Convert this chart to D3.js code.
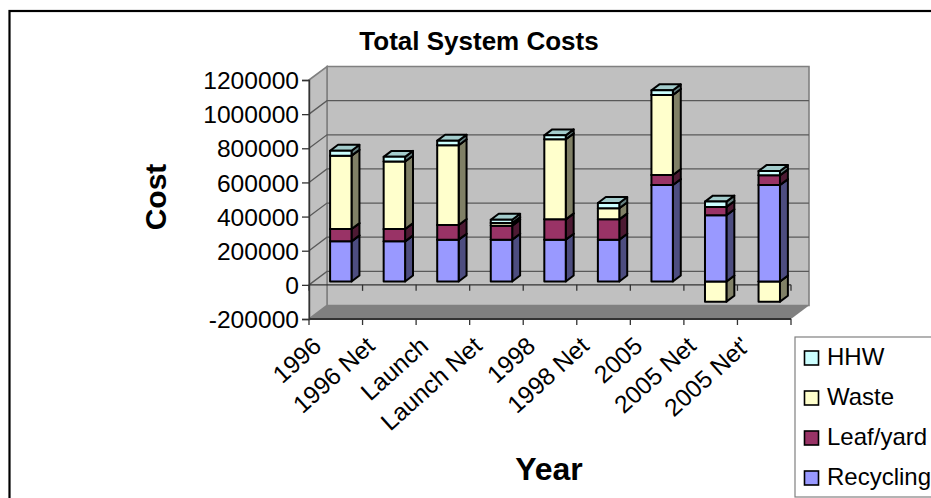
<!DOCTYPE html>
<html>
<head>
<meta charset="utf-8">
<script src="https://cdn.jsdelivr.net/npm/d3@7/dist/d3.min.js"></script>
<style>
html, body { margin: 0; padding: 0; background: #fff; overflow: hidden; }
svg { display: block; font-family: "Liberation Sans", Arial, sans-serif; }
</style>
</head>
<body>
<svg id="chart" width="931" height="498"></svg>
<script>
const categories = ["1996", "1996 Net", "Launch", "Launch Net", "1998", "1998 Net", "2005", "2005 Net", "2005 Net'"];
const recycling = [235000, 235000, 245000, 245000, 245000, 245000, 565000, 388000, 565000];
const leafYard = [72000, 72000, 86000, 82000, 119000, 119000, 59000, 49000, 57000];
const waste = [430000, 396000, 467000, 15000, 469000, 65000, 469000, -118000, -118000];
const hhw = [29000, 27000, 27000, 20000, 23000, 31000, 27000, 31000, 25000];
const valueTicks = [-200000, 0, 200000, 400000, 600000, 800000, 1000000, 1200000];

const seriesList = [
  { name: "Recycling", values: recycling, front: "#9999FF", side: "#4D4D80", top: "#7A7ACC" },
  { name: "Leaf/yard", values: leafYard, front: "#993366", side: "#4D1A33", top: "#7A2952" },
  { name: "Waste", values: waste, front: "#FFFFCC", side: "#808066", top: "#CCCCA3" },
  { name: "HHW", values: hhw, front: "#CCFFFF", side: "#668080", top: "#A3CCCC" }
];

const svg = d3.select("#chart");

const x = d3.scaleBand().domain(categories).range([309, 791]).paddingInner(0).paddingOuter(0);
const y = d3.scaleLinear().domain([-200000, 1200000]).range([319, 80]);

// Oblique projection: depth 0 is the front plane, depth 1 the back wall.
const depthX = d3.scaleLinear().domain([0, 1]).range([0, 18]);
const depthY = d3.scaleLinear().domain([0, 1]).range([0, -13.5]);
const project = (px, value, depth) => [px + depthX(depth), y(value) + depthY(depth)];
const poly = pts => pts.map(p => p.map(v => v.toFixed(2)).join(",")).join(" ");

const [xMin, xMax] = x.range();
const [vMin, vMax] = y.domain();

// Outer frame of the chart area
svg.append("rect").attr("x", 9.5).attr("y", 11).attr("width", 940).attr("height", 500)
  .attr("fill", "#fff").attr("stroke", "#000").attr("stroke-width", 2.2);

svg.append("text").attr("x", 479).attr("y", 50).attr("text-anchor", "middle")
  .attr("font-size", 26).attr("font-weight", "bold").text("Total System Costs");

const walls = svg.append("g");
// Back wall
walls.append("polygon")
  .attr("points", poly([project(xMin, vMax, 1), project(xMax, vMax, 1), project(xMax, vMin, 1), project(xMin, vMin, 1)]))
  .attr("fill", "#C0C0C0").attr("stroke", "#808080").attr("stroke-width", 1.6);
// Side wall
walls.append("polygon")
  .attr("points", poly([project(xMin, vMax, 0), project(xMin, vMax, 1), project(xMin, vMin, 1), project(xMin, vMin, 0)]))
  .attr("fill", "#C0C0C0").attr("stroke", "#808080").attr("stroke-width", 1.6);
// Floor
walls.append("polygon")
  .attr("points", poly([project(xMin, vMin, 0), project(xMin, vMin, 1), project(xMax, vMin, 1), project(xMax, vMin, 0)]))
  .attr("fill", "#808080");

// Gridlines run along the side wall and across the back wall
const grid = svg.append("g").attr("fill", "none").attr("stroke", "#595959").attr("stroke-width", 1.3);
valueTicks.filter(v => v > vMin && v < vMax).forEach(v => {
  grid.append("polyline").attr("points", poly([project(xMin, v, 0), project(xMin, v, 1), project(xMax, v, 1)]));
});

// Value axis on the front-left edge
const yAxis = d3.axisLeft(y).tickValues(valueTicks).tickFormat(d => String(d)).tickSize(7).tickPadding(3);
const yAxisG = svg.append("g").attr("transform", `translate(${xMin},0)`).call(yAxis);
yAxisG.selectAll("text").attr("font-size", 24.6).attr("font-family", "Liberation Sans, Arial, sans-serif")
  .attr("fill", "#000").attr("dy", "0.35em");
yAxisG.selectAll("line").attr("stroke", "#333").attr("stroke-width", 1.3);
yAxisG.select(".domain").attr("stroke", "#333").attr("stroke-width", 1.4);

// Category axis on the floor edge
const boundaries = categories.map(c => x(c)).concat([xMax]);
const xAxisG = svg.append("g").attr("transform", `translate(0,${y(vMin)})`);
xAxisG.append("path").attr("stroke", "#333").attr("stroke-width", 2).attr("fill", "none").attr("d", `M${xMin},0H${xMax}`);
xAxisG.selectAll("line.b").data(boundaries).join("line").attr("class", "b")
  .attr("x1", d => d).attr("x2", d => d).attr("y1", 0).attr("y2", 6)
  .attr("stroke", "#333").attr("stroke-width", 1.3);

// Zero line with its ticks, behind the bars
const zero = svg.append("g");
zero.append("line").attr("x1", xMin).attr("x2", xMax).attr("y1", y(0)).attr("y2", y(0))
  .attr("stroke", "#333").attr("stroke-width", 1.3);
zero.selectAll("line.t").data(boundaries).join("line").attr("class", "t")
  .attr("x1", d => d).attr("x2", d => d).attr("y1", y(0)).attr("y2", y(0) + 6)
  .attr("stroke", "#333").attr("stroke-width", 1.3);

// Category labels, rotated and ending under each bar slot
svg.append("g").selectAll("text").data(categories).join("text")
  .attr("transform", d => `translate(${x(d) + x.bandwidth() * 0.5 - 13},${y(vMin) + 29}) rotate(-42)`)
  .attr("text-anchor", "end").attr("font-size", 24.5).attr("fill", "#000")
  .text(d => d);

// Bars: stacked upward from zero for positive values, downward for negative ones
const barLeft = c => x(c) + x.bandwidth() * 0.31;
const barRight = c => x(c) + x.bandwidth() * 0.71;
const bodyDepth = [0.25, 0.69];

function drawSegment(g, c, v0, v1, s) {
  const l = barLeft(c), r = barRight(c);
  const [d0, d1] = bodyDepth;
  const hi = Math.max(v0, v1), lo = Math.min(v0, v1);
  const face = (pts, fill) => g.append("polygon").attr("points", poly(pts)).attr("fill", fill)
    .attr("stroke", "#000").attr("stroke-width", 2).attr("stroke-linejoin", "round");
  face([project(r, hi, d0), project(r, hi, d1), project(r, lo, d1), project(r, lo, d0)], s.side);
  face([project(l, hi, d0), project(r, hi, d0), project(r, hi, d1), project(l, hi, d1)], s.top);
  face([project(l, hi, d0), project(r, hi, d0), project(r, lo, d0), project(l, lo, d0)], s.front);
}

const bars = svg.append("g");
categories.forEach((c, i) => {
  const g = bars.append("g");
  let neg = 0;
  seriesList.forEach(s => {
    const v = s.values[i];
    if (v < 0) { drawSegment(g, c, neg, neg + v, s); neg += v; }
  });
  let pos = 0;
  seriesList.forEach(s => {
    const v = s.values[i];
    if (v > 0) { drawSegment(g, c, pos, pos + v, s); pos += v; }
  });
});

// Axis titles
svg.append("text").attr("transform", "translate(166,197) rotate(-90)").attr("text-anchor", "middle")
  .attr("font-size", 30).attr("font-weight", "bold").text("Cost");
svg.append("text").attr("x", 549).attr("y", 480).attr("text-anchor", "middle")
  .attr("font-size", 32).attr("font-weight", "bold").text("Year");

// Legend box, listed top to bottom in reverse stacking order
const legend = svg.append("g");
legend.append("rect").attr("x", 795).attr("y", 337).attr("width", 160).attr("height", 160)
  .attr("fill", "#fff").attr("stroke", "#808080").attr("stroke-width", 1.2);
const legendY = d3.scalePoint().domain(seriesList.map(s => s.name).reverse()).range([358, 478]);
seriesList.forEach(s => {
  legend.append("rect").attr("x", 804.5).attr("y", legendY(s.name) - 7).attr("width", 14).attr("height", 14)
    .attr("fill", s.front).attr("stroke", "#000").attr("stroke-width", 1.6);
  legend.append("text").attr("x", 827).attr("y", legendY(s.name) + 7)
    .attr("font-size", 24).attr("fill", "#000").text(s.name);
});
</script>
</body>
</html>
